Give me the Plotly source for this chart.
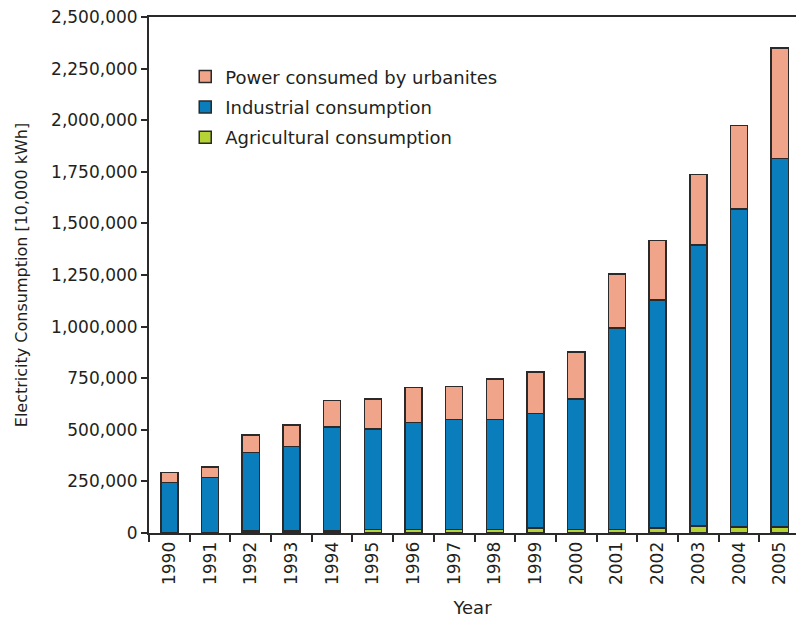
import plotly.graph_objects as go

years = [str(y) for y in range(1990, 2006)]
agricultural = [2000, 2000, 10000, 10000, 10000, 17000, 17000, 17000, 17000, 25000,
                17000, 17000, 25000, 33000, 30000, 30000]
industrial = [242000, 268000, 381000, 408000, 504000, 487000, 519000, 534000, 534000,
              555000, 632000, 976000, 1104000, 1362000, 1540000, 1784000]
urbanites = [50000, 51000, 84000, 105000, 129000, 145000, 168000, 160000, 195000,
             200000, 229000, 263000, 289000, 343000, 404000, 537000]
y_ticks = list(range(0, 2500001, 250000))

FONT = "DejaVu Sans"
TXT = "#231f20"
EDGE = "#2a2a2a"

fig = go.Figure()
series = [
    ("Agricultural consumption", agricultural, "#b5d334", "g3", 3),
    ("Industrial consumption", industrial, "#0a7dbd", "g2", 2),
    ("Power consumed by urbanites", urbanites, "#f0a58a", "g1", 1),
]
for name, vals, col, grp, rank in series:
    fig.add_trace(go.Bar(
        x=years, y=vals, name=name, legendgroup=grp, legendrank=rank,
        marker=dict(color=col, line=dict(color=EDGE, width=1.5)),
        width=0.42,
    ))

fig.update_layout(
    width=796, height=618,
    barmode="stack",
    plot_bgcolor="white", paper_bgcolor="white",
    margin=dict(l=149, r=0, t=17, b=85, autoexpand=False),
    font=dict(family=FONT, color=TXT, size=17),
    showlegend=True,
    legend=dict(
        x=0.056, y=0.92, xanchor="left", yanchor="top",
        traceorder="grouped", tracegroupgap=4,
        font=dict(family=FONT, size=18, color=TXT),
        bgcolor="rgba(0,0,0,0)",
    ),
    bargap=0.58,
)
fig.update_xaxes(
    type="category", range=[-0.5, 15.4], automargin=False,
    showline=True, linecolor=EDGE, linewidth=2, mirror=True,
    ticks="outside", tickson="boundaries", ticklen=7, tickwidth=1.5, tickcolor=EDGE,
    tickangle=-90, tickfont=dict(size=17, family=FONT, color=TXT),
    showgrid=False,
    title=dict(text="Year", font=dict(size=18, family=FONT, color=TXT), standoff=17),
)
fig.update_yaxes(
    range=[0, 2500000], tickvals=y_ticks, tickformat=",", automargin=False,
    showline=True, linecolor=EDGE, linewidth=2,
    ticks="outside", ticklen=6, tickwidth=1.5, tickcolor=EDGE,
    tickfont=dict(size=17, family=FONT, color=TXT),
    showgrid=False, zeroline=False,
    title=dict(text="Electricity Consumption [10,000 kWh]",
               font=dict(size=16, family=FONT, color=TXT), standoff=19),
)

fig.write_html("out.html", config={"displayModeBar": False},
               post_script="document.body.style.margin='0';")
